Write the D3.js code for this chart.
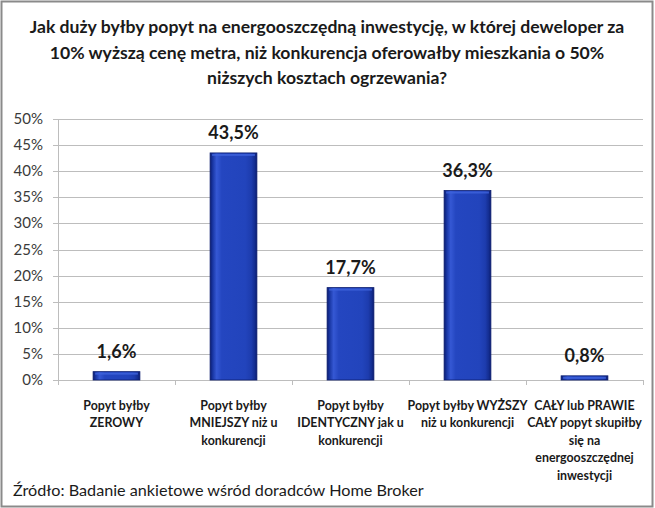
<!DOCTYPE html>
<html><head><meta charset="utf-8">
<script src="https://cdn.jsdelivr.net/npm/d3@7"></script>
<style>
html,body{margin:0;padding:0;background:#fff;}
svg{display:block;}
text{font-family:Lato,"Open Sans",sans-serif;}
</style></head>
<body>
<svg id="c" width="655" height="508"></svg>
<script>
const titleLines = [
  "Jak duży byłby popyt na energooszczędną inwestycję, w której deweloper za",
  "10% wyższą cenę metra, niż konkurencja oferowałby mieszkania o 50%",
  "niższych kosztach ogrzewania?"
];
const categories = [
  ["Popyt byłby", "ZEROWY"],
  ["Popyt byłby", "MNIEJSZY niż u", "konkurencji"],
  ["Popyt byłby", "IDENTYCZNY jak u", "konkurencji"],
  ["Popyt byłby WYŻSZY", "niż u konkurencji"],
  ["CAŁY lub PRAWIE", "CAŁY popyt skupiłby", "się na", "energooszczędnej", "inwestycji"]
];
const values = [1.6, 43.5, 17.7, 36.3, 0.8];
const valueLabels = ["1,6%", "43,5%", "17,7%", "36,3%", "0,8%"];
const yTicks = [0, 5, 10, 15, 20, 25, 30, 35, 40, 45, 50];
const sourceText = "Źródło: Badanie ankietowe wśród doradców Home Broker";

const svg = d3.select("#c");
const defs = svg.append("defs");
const g1 = defs.append("linearGradient").attr("id","barH").attr("x1","0").attr("x2","1").attr("y1","0").attr("y2","0");
[[0,"#0a1c72"],[0.06,"#1a38a6"],[0.14,"#3558d4"],[0.25,"#2446c0"],[0.75,"#2244bc"],[0.88,"#1d3cae"],[0.95,"#142e92"],[1,"#0a1c72"]]
  .forEach(([o,c])=>g1.append("stop").attr("offset",o).attr("stop-color",c));

// frame
svg.append("rect").attr("x",1.5).attr("y",1.5).attr("width",651).attr("height",505)
  .attr("fill","#fff").attr("stroke","#8a8a8a").attr("stroke-width",2);

// title
const title = svg.append("g");
titleLines.forEach((t,i)=>{
  title.append("text").attr("x",327).attr("y",33+i*25.5).attr("text-anchor","middle")
    .attr("font-size",17.6).attr("font-weight","bold").attr("fill","#1a1a1a").text(t);
});

const x = d3.scaleBand().domain(d3.range(categories.length)).range([58,643]).paddingInner(0.6).paddingOuter(0.3);
const y = d3.scaleLinear().domain([0,50]).range([380,119]);

// gridlines
svg.append("g").selectAll("line").data(yTicks).join("line")
  .attr("x1",53).attr("x2",643).attr("y1",d=>Math.round(y(d))+0.5).attr("y2",d=>Math.round(y(d))+0.5)
  .attr("stroke","#bdbdbd").attr("stroke-width",1);
// y axis line
svg.append("line").attr("x1",58.5).attr("x2",58.5).attr("y1",y(50)).attr("y2",y(0)+5)
  .attr("stroke","#bdbdbd");
// y labels
svg.append("g").selectAll("text").data(yTicks).join("text")
  .attr("x",43).attr("y",d=>y(d)+5).attr("text-anchor","end")
  .attr("font-size",15).attr("fill","#3a3a3a").text(d=>d+"%");
// category ticks
const step = x.step();
svg.append("g").selectAll("line").data(d3.range(categories.length+1)).join("line")
  .attr("x1",d=>Math.round(58+d*step)+0.5).attr("x2",d=>Math.round(58+d*step)+0.5)
  .attr("y1",y(0)).attr("y2",y(0)+5).attr("stroke","#bdbdbd");

// bars
svg.append("g").selectAll("rect").data(values).join("rect")
  .attr("x",(d,i)=>x(i)).attr("width",x.bandwidth())
  .attr("y",d=>y(d)).attr("height",d=>y(0)-y(d))
  .attr("fill","url(#barH)").attr("stroke","#0a1c6e").attr("stroke-width",0.8);
// top bevel highlight
svg.append("g").selectAll("rect").data(values).join("rect")
  .attr("x",(d,i)=>x(i)+2).attr("width",x.bandwidth()-4)
  .attr("y",d=>y(d)+1).attr("height",d=>Math.min(2,y(0)-y(d)-2))
  .attr("fill","#3f63dc").attr("opacity",0.8);

// value labels
svg.append("g").selectAll("text").data(values).join("text")
  .attr("x",(d,i)=>x(i)+x.bandwidth()/2).attr("y",d=>y(d)-14)
  .attr("text-anchor","middle").attr("font-size",18).attr("font-weight","bold")
  .attr("fill","#1a1a1a").text((d,i)=>valueLabels[i]);

// category labels
categories.forEach((lines,i)=>{
  const t = svg.append("text").attr("text-anchor","middle").attr("font-size",12.4)
    .attr("font-weight","bold").attr("fill","#1a1a1a");
  lines.forEach((l,j)=>{
    t.append("tspan").attr("x",x(i)+x.bandwidth()/2).attr("y",410+j*17.4).text(l);
  });
});

// source
svg.append("text").attr("x",13).attr("y",496).attr("font-size",16.2).attr("fill","#1a1a1a").text(sourceText);
</script>
</body></html>
